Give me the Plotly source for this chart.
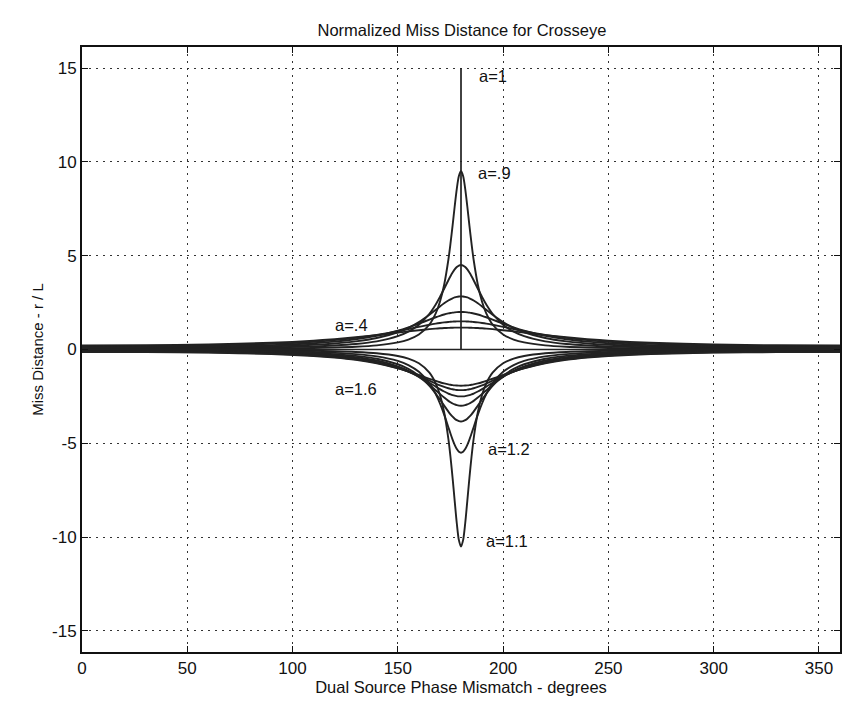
import plotly.graph_objects as go

# Phase offset from 180 degrees (curves are symmetric about 180)
offset_deg = [0, 1, 2, 3, 4, 5, 6, 8, 10, 12, 15, 20, 25, 30, 40, 50, 60, 70, 90, 120, 150, 180]

# Normalized miss distance r/L read for each amplitude ratio a
a04 = [1.1667, 1.1663, 1.1651, 1.1631, 1.1604, 1.1569, 1.1526, 1.1420, 1.1286, 1.1126, 1.0845, 1.0288, 0.9656, 0.8990, 0.7676, 0.6504, 0.5526, 0.4738, 0.3621, 0.2692, 0.2267, 0.2143]
a05 = [1.5, 1.4991, 1.4964, 1.4918, 1.4855, 1.4775, 1.4678, 1.4438, 1.4141, 1.3794, 1.3201, 1.2085, 1.0911, 0.9766, 0.7749, 0.6176, 0.5, 0.4130, 0.3, 0.2143, 0.1772, 0.1667]
a06 = [2.0, 1.9977, 1.9909, 1.9796, 1.9641, 1.9445, 1.9211, 1.8640, 1.7954, 1.7184, 1.5929, 1.3771, 1.1746, 0.9976, 0.7260, 0.5436, 0.4211, 0.3370, 0.2353, 0.1633, 0.1334, 0.125]
a07 = [2.8333, 2.8266, 2.8067, 2.7742, 2.7299, 2.6750, 2.6109, 2.4608, 2.2917, 2.1145, 1.8518, 1.4619, 1.1530, 0.9187, 0.6107, 0.4321, 0.3228, 0.2522, 0.1711, 0.1164, 0.0944, 0.0882]
a08 = [4.5, 4.4727, 4.3930, 4.2661, 4.1004, 3.9056, 3.6912, 3.2391, 2.7991, 2.4012, 1.9044, 1.3188, 0.9478, 0.7077, 0.4344, 0.2943, 0.2143, 0.1647, 0.1098, 0.0738, 0.0595, 0.0556]
a09 = [9.5, 9.2466, 8.5616, 7.6201, 6.6041, 5.6380, 4.7835, 3.4523, 2.5438, 1.9257, 1.3318, 0.8013, 0.5318, 0.3783, 0.2204, 0.1455, 0.1044, 0.0795, 0.0525, 0.0351, 0.0282, 0.0263]
a11 = [-10.5, -10.1597, -9.2593, -8.0676, -6.8364, -5.7152, -4.7615, -3.3429, -2.4181, -1.8080, -1.2358, -0.7359, -0.4858, -0.3446, -0.2001, -0.1319, -0.0946, -0.0720, -0.0475, -0.0317, -0.0255, -0.0238]
a12 = [-5.5, -5.4501, -5.3061, -5.0821, -4.7987, -4.4776, -4.1394, -3.4724, -2.8773, -2.3798, -1.8066, -1.1909, -0.8306, -0.6085, -0.3658, -0.2452, -0.1774, -0.1359, -0.0902, -0.0604, -0.0487, -0.0455]
a13 = [-3.8333, -3.8165, -3.7671, -3.6874, -3.5813, -3.4537, -3.3096, -2.9921, -2.6641, -2.3499, -1.9318, -1.3979, -1.0342, -0.7871, -0.4941, -0.3387, -0.2482, -0.1916, -0.1283, -0.0865, -0.0698, -0.0652]
a14 = [-3.0, -2.9920, -2.9684, -2.9297, -2.8773, -2.8127, -2.7376, -2.5634, -2.3699, -2.1701, -1.8794, -1.4596, -1.1365, -0.8970, -0.5889, -0.4137, -0.3077, -0.2397, -0.1622, -0.1101, -0.0891, -0.0833]
a15 = [-2.5, -2.4954, -2.4819, -2.4595, -2.4290, -2.3908, -2.3458, -2.2386, -2.1145, -1.9806, -1.7745, -1.4504, -1.1769, -0.9587, -0.6566, -0.4729, -0.3571, -0.2810, -0.1923, -0.1316, -0.1069, -0.1]
a16 = [-2.1667, -2.1637, -2.1550, -2.1406, -2.1207, -2.0958, -2.0661, -1.9942, -1.9089, -1.8143, -1.6630, -1.4105, -1.1822, -0.9889, -0.7036, -0.5189, -0.3980, -0.3164, -0.2191, -0.1512, -0.1232, -0.1154]
a17 = [-1.9286, -1.9265, -1.9205, -1.9104, -1.8965, -1.8790, -1.8579, -1.8066, -1.7447, -1.6747, -1.5598, -1.3596, -1.1688, -0.9995, -0.7352, -0.5544, -0.4315, -0.3465, -0.2429, -0.1691, -0.1383, -0.1296]

curves = [a04, a05, a06, a07, a08, a09, a11, a12, a13, a14, a15, a16, a17]

# a = 1 case: zero everywhere with the singular spike at 180 deg
a10_x = [0, 180, 180, 180, 360]
a10_y = [0, 0, 15, 0, 0]

x_ticks = [0, 50, 100, 150, 200, 250, 300, 350]
y_ticks = [-15, -10, -5, 0, 5, 10, 15]
y_tick_text = ["-15", "-10", "-5", "0", "5", "10", "15"]

labels = ["a=1", "a=.9", "a=.4", "a=1.6", "a=1.2", "a=1.1"]
label_x = [195, 196, 128, 130, 203, 202]
label_y = [14.6, 9.4, 1.3, -2.1, -5.3, -10.2]

LINE = "#222222"
TXT = "#111111"
FONT = "Liberation Sans, Arial, sans-serif"

fig = go.Figure()
for vals in curves:
    xs = [180 - d for d in reversed(offset_deg)] + [180 + d for d in offset_deg[1:]]
    ys = list(reversed(vals)) + vals[1:]
    fig.add_trace(go.Scatter(x=xs, y=ys, mode="lines",
                             line=dict(color=LINE, width=1.9, shape="spline", smoothing=0.8),
                             showlegend=False, hoverinfo="skip"))
fig.add_trace(go.Scatter(x=a10_x, y=a10_y, mode="lines",
                         line=dict(color=LINE, width=1.7),
                         showlegend=False, hoverinfo="skip"))

for t, x, y in zip(labels, label_x, label_y):
    fig.add_annotation(x=x, y=y, text=t, showarrow=False,
                       font=dict(family=FONT, size=16.5, color=TXT))

axis_common = dict(
    showline=True, linecolor=TXT, linewidth=1.8, mirror="ticks",
    ticks="inside", ticklen=6, tickcolor=TXT, tickwidth=1.2,
    showgrid=True, gridcolor="#333333", griddash="2px,5px", gridwidth=1.2,
    zeroline=False,
    tickfont=dict(family=FONT, size=17, color=TXT),
)

fig.update_xaxes(range=[0, 360], tickvals=x_ticks,
                 title=dict(text="Dual Source Phase Mismatch - degrees",
                            font=dict(family=FONT, size=16.5, color=TXT), standoff=3),
                 **axis_common)
fig.update_yaxes(range=[-16.12, 16.12], tickvals=y_ticks, ticktext=y_tick_text,
                 title=dict(text="Miss Distance - r / L",
                            font=dict(family=FONT, size=15, color=TXT), standoff=5),
                 **axis_common)

fig.update_layout(
    width=842, height=702,
    margin=dict(l=82, r=0, t=47, b=50),
    paper_bgcolor="white", plot_bgcolor="white",
    title=dict(text="Normalized Miss Distance for Crosseye", x=0.5486, xanchor="center",
               y=1 - 30 / 702, yanchor="middle",
               font=dict(family=FONT, size=16.5, color=TXT)),
)

fig.write_html("out.html")
